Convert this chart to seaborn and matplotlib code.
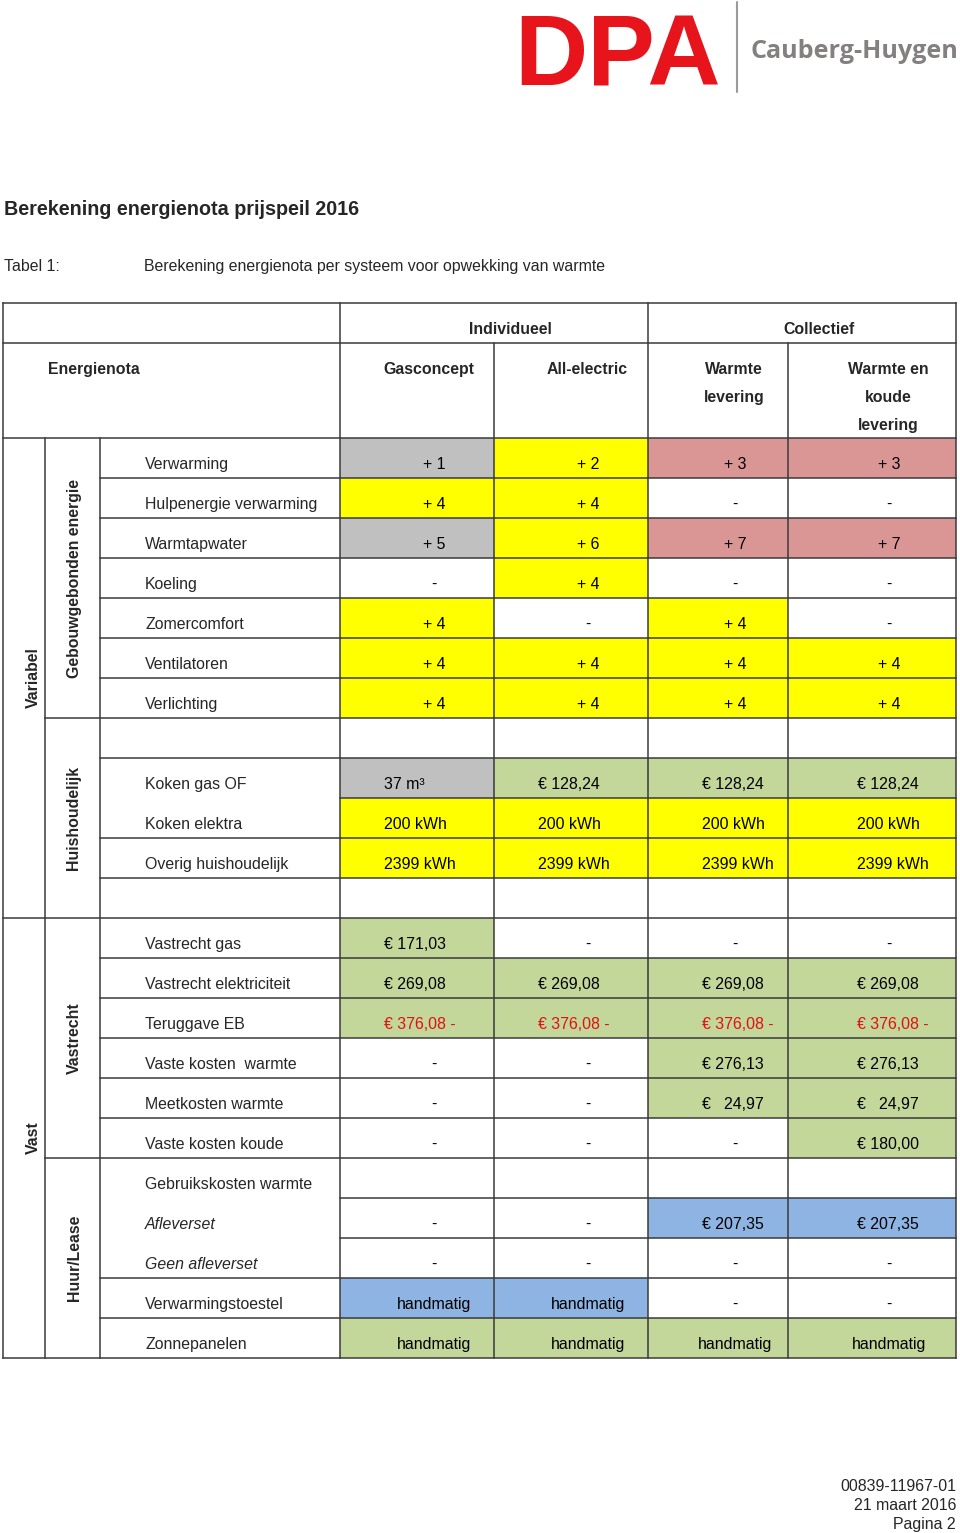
import numpy as np
import matplotlib
matplotlib.use("Agg")
import matplotlib.pyplot as plt
from matplotlib.colors import ListedColormap
import seaborn as sns

# Table content
row_labels = ["Verwarming", "Hulpenergie verwarming", "Warmtapwater", "Koeling",
              "Zomercomfort", "Ventilatoren", "Verlichting", "",
              "Koken gas OF", "Koken elektra", "Overig huishoudelijk", "",
              "Vastrecht gas", "Vastrecht elektriciteit", "Teruggave EB",
              "Vaste kosten  warmte", "Meetkosten warmte", "Vaste kosten koude",
              "Gebruikskosten warmte", "Afleverset", "Geen afleverset",
              "Verwarmingstoestel", "Zonnepanelen"]
italic_labels = ["Afleverset", "Geen afleverset"]
red_rows = ["Teruggave EB"]

columns = ["Gasconcept", "All-electric", "Warmte\nlevering", "Warmte en\nkoude\nlevering"]
column_groups = ["Individueel", "Collectief"]

gasconcept = ["+ 1", "+ 4", "+ 5", "-", "+ 4", "+ 4", "+ 4", "",
              "37 m³", "200 kWh", "2399 kWh", "",
              "€ 171,03", "€ 269,08", "€ 376,08 -", "-", "-", "-",
              "", "-", "-", "handmatig", "handmatig"]
all_electric = ["+ 2", "+ 4", "+ 6", "+ 4", "-", "+ 4", "+ 4", "",
                "€ 128,24", "200 kWh", "2399 kWh", "",
                "-", "€ 269,08", "€ 376,08 -", "-", "-", "-",
                "", "-", "-", "handmatig", "handmatig"]
warmte_levering = ["+ 3", "-", "+ 7", "-", "+ 4", "+ 4", "+ 4", "",
                   "€ 128,24", "200 kWh", "2399 kWh", "",
                   "-", "€ 269,08", "€ 376,08 -", "€ 276,13", "€   24,97", "-",
                   "", "€ 207,35", "-", "-", "handmatig"]
warmte_koude = ["+ 3", "-", "+ 7", "-", "-", "+ 4", "+ 4", "",
                "€ 128,24", "200 kWh", "2399 kWh", "",
                "-", "€ 269,08", "€ 376,08 -", "€ 276,13", "€   24,97", "€ 180,00",
                "", "€ 207,35", "-", "-", "handmatig"]

# fill codes: 0 white, 1 grey, 2 yellow, 3 pink, 4 green, 5 blue
fill_gas = [1, 2, 1, 0, 2, 2, 2, 0, 1, 2, 2, 0, 4, 4, 4, 0, 0, 0, 0, 0, 0, 5, 4]
fill_all = [2, 2, 2, 2, 0, 2, 2, 0, 4, 2, 2, 0, 0, 4, 4, 0, 0, 0, 0, 0, 0, 5, 4]
fill_wl = [3, 0, 3, 0, 2, 2, 2, 0, 4, 2, 2, 0, 0, 4, 4, 4, 4, 0, 0, 5, 0, 0, 4]
fill_wk = [3, 0, 3, 0, 0, 2, 2, 0, 4, 2, 2, 0, 0, 4, 4, 4, 4, 4, 0, 5, 0, 0, 4]
fill_colors = ["#FFFFFF", "#C0C0C0", "#FFFF00", "#DA9694", "#C4D79B", "#8DB4E2"]

groups_outer = [("Variabel", 678), ("Vast", 1138)]
groups_inner = [("Gebouwgebonden energie", 0, 7), ("Huishoudelijk", 7, 12),
                ("Vastrecht", 12, 18), ("Huur/Lease", 18, 23)]

# Layout (pixels)
W, H = 960, 1533
col_edges = [340, 494, 648, 788, 956]
col_units = [11, 11, 10, 12]          # column widths in 14 px units
text_left = [384, 538, 702, 857]
top, row_h = 438, 40
n_rows = len(row_labels)
bottom = top + n_rows * row_h
line_c = "#3a3a3a"
lw = 1.1
fs = 11.4

sns.set_theme(style="white")
plt.rcParams["font.family"] = ["Liberation Sans", "DejaVu Sans"]

fig = plt.figure(figsize=(W / 100, H / 100), dpi=100)

# cell fills via heatmap
hax = fig.add_axes([col_edges[0] / W, 1 - bottom / H,
                    (col_edges[-1] - col_edges[0]) / W, (bottom - top) / H])
fills = np.array([fill_gas, fill_all, fill_wl, fill_wk]).T
grid = np.repeat(fills, col_units, axis=1)
sns.heatmap(grid, ax=hax, cmap=ListedColormap(fill_colors), vmin=-0.5, vmax=5.5,
            cbar=False, xticklabels=False, yticklabels=False)
hax.axis("off")

ax = fig.add_axes([0, 0, 1, 1], zorder=3)
ax.set_xlim(0, W)
ax.set_ylim(H, 0)
ax.axis("off")

# logo
ax.text(514, 85, "DPA", fontsize=73, fontweight="bold", color="#E8141B", ha="left", va="baseline")
ax.plot([737, 737], [2, 92], color="#9a9a9a", lw=1.5)
ax.text(750, 58, "Cauberg-Huygen", fontsize=18.1, fontweight="bold", color="#858080",
        family=["Open Sans", "DejaVu Sans"], ha="left", va="baseline")

ax.text(4, 215, "Berekening energienota prijspeil 2016", fontsize=14.2, fontweight="bold", va="baseline")
ax.text(4, 271, "Tabel 1:", fontsize=fs, va="baseline")
ax.text(144, 271, "Berekening energienota per systeem voor opwekking van warmte", fontsize=fs, va="baseline")

# header
ax.text((col_edges[0] + col_edges[2]) / 2 + 16, 334, column_groups[0], fontsize=fs, fontweight="bold", ha="center", va="baseline")
ax.text((col_edges[2] + col_edges[4]) / 2 + 17, 334, column_groups[1], fontsize=fs, fontweight="bold", ha="center", va="baseline")
ax.text(48, 374, "Energienota", fontsize=fs, fontweight="bold", va="baseline")
head_off = [12, 16, 16, 16]
for j, name in enumerate(columns):
    cx = (col_edges[j] + col_edges[j + 1]) / 2 + head_off[j]
    for k, part in enumerate(name.split("\n")):
        ax.text(cx, 374 + 28 * k, part, fontsize=fs, fontweight="bold", ha="center", va="baseline")

# rows
values = [gasconcept, all_electric, warmte_levering, warmte_koude]
for i, lab in enumerate(row_labels):
    base = top + (i + 1) * row_h - 9
    ax.text(145, base, lab, fontsize=fs, va="baseline",
            style="italic" if lab in italic_labels else "normal")
    color = "#E01010" if lab in red_rows else "black"
    for j in range(4):
        v = values[j][i]
        if v.startswith("€") or v.endswith("kWh") or v.endswith("m³"):
            ax.text(text_left[j], base, v, fontsize=fs, ha="left", va="baseline", color=color)
        else:
            cx = (col_edges[j] + col_edges[j + 1]) / 2 + 17
            ax.text(cx, base, v, fontsize=fs, ha="center", va="baseline", color=color)

# group labels
for name, yc in groups_outer:
    ax.text(33, yc, name, fontsize=fs, fontweight="bold", rotation=90, ha="center", va="center")
for name, a, b in groups_inner:
    ax.text(74, top + (a + b) / 2 * row_h, name, fontsize=fs, fontweight="bold",
            rotation=90, ha="center", va="center")

# grid lines
def hline(y, x0, x1):
    ax.plot([x0, x1], [y, y], color=line_c, lw=lw, solid_capstyle="projecting")

def vline(x, y0, y1):
    ax.plot([x, x], [y0, y1], color=line_c, lw=lw, solid_capstyle="projecting")

for y in [303, 343, top, 918, bottom]:
    hline(y, 3, 956)
skip_label = [9, 19, 20]     # boundaries without line in the label column
for i in range(1, n_rows):
    y = top + i * row_h
    if y == 918:
        continue
    if i in (7, 18):
        hline(y, 45, 956)
    elif i in skip_label:
        hline(y, 340, 956)
    else:
        hline(y, 100, 956)

vline(3, 303, bottom)
vline(45, top, bottom)
vline(100, top, bottom)
vline(340, 303, bottom)
vline(494, 343, bottom)
vline(648, 303, bottom)
vline(788, 343, bottom)
vline(956, 303, bottom)

# footer
for k, t in enumerate(["00839-11967-01", "21 maart 2016", "Pagina 2"]):
    ax.text(956, 1491 + 19 * k, t, fontsize=fs, ha="right", va="baseline")

fig.savefig("out.png", dpi=100)
